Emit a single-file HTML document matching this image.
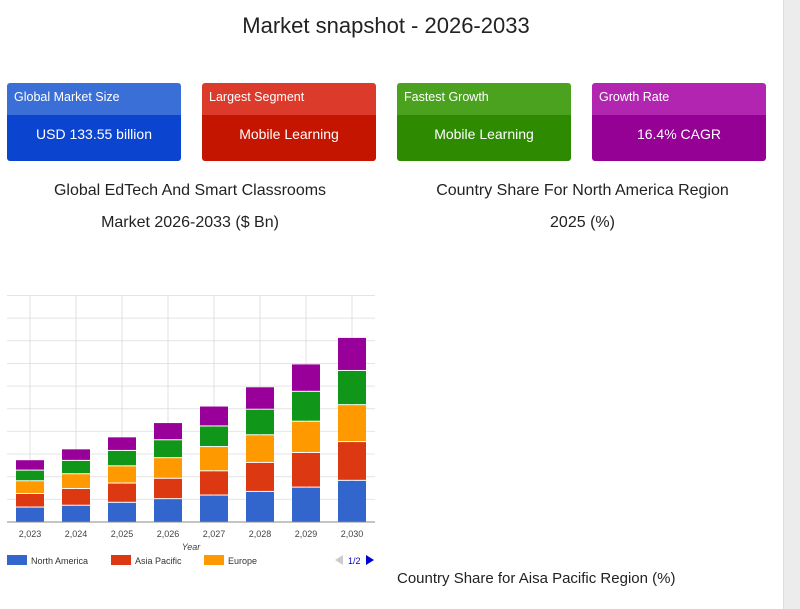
<!DOCTYPE html>
<html><head><meta charset="utf-8"><style>
*{box-sizing:border-box;margin:0;padding:0}
body{width:800px;height:609px;background:#fff;font-family:"Liberation Sans",sans-serif;position:relative;overflow:hidden;color:#222}
.strip{position:absolute;left:783px;top:0;width:17px;height:609px;background:#ececec;border-left:1px solid #ddd}
h1{position:absolute;left:0;width:772px;top:13px;text-align:center;font-size:22px;font-weight:normal;color:#222}
.card{position:absolute;top:83px;width:174px;height:78px;border-radius:3px;overflow:hidden;color:#fff}
.card .h{height:32px;font-size:12.5px;padding:7px 7px}
.card .v{height:46px;font-size:14px;text-align:center;line-height:38px}
.t{position:absolute;font-size:16px;text-align:center;line-height:32px;color:#222}
</style></head><body>
<div class="strip"></div>
<h1>Market snapshot - 2026-2033</h1>
<div class="card" style="left:7px"><div class="h" style="background:#3a6fd8">Global Market Size</div><div class="v" style="background:#0a44cf">USD 133.55 billion</div></div>
<div class="card" style="left:202px"><div class="h" style="background:#dc3b2c">Largest Segment</div><div class="v" style="background:#c31500">Mobile Learning</div></div>
<div class="card" style="left:397px"><div class="h" style="background:#4aa21e">Fastest Growth</div><div class="v" style="background:#2e8a00">Mobile Learning</div></div>
<div class="card" style="left:592px"><div class="h" style="background:#b125b1">Growth Rate</div><div class="v" style="background:#950095">16.4% CAGR</div></div>
<div class="t" style="left:0;width:380px;top:175px">Global EdTech And Smart Classrooms<br>Market 2026-2033 ($ Bn)</div>
<div class="t" style="left:390px;width:385px;top:175px">Country Share For North America Region<br>2025 (%)</div>
<div class="t" style="left:397px;width:335px;top:563px;font-size:15px;text-align:left">Country Share for Aisa Pacific Region (%)</div>
<svg id="chart" style="position:absolute;left:0;top:285px" width="390" height="300"></svg>
<script>
const years=["2,023","2,024","2,025","2,026","2,027","2,028","2,029","2,030"];
const northAmerica=[6.6,7.4,8.7,10.3,11.9,13.5,15.4,18.4];
const asiaPacific=[6.0,7.4,8.5,9.0,10.7,12.8,15.3,17.1];
const europe=[5.6,6.5,7.6,9.1,10.7,12.2,13.8,16.3];
const seriesGreen=[4.7,5.9,6.8,7.9,9.1,11.3,13.2,15.1];
const seriesPurple=[4.6,5.1,6.0,7.6,8.8,9.9,12.1,14.6];
const series=[northAmerica,asiaPacific,europe,seriesGreen,seriesPurple];
const names=["north-america","asia-pacific","europe","series-green","series-purple"];
const colors=["#3366cc","#dc3912","#ff9900","#109618","#990099"];
const NS="http://www.w3.org/2000/svg";
const svg=document.getElementById('chart');
const x0=7,x1=375,yTop=10.5,yBase=237,maxV=100,step=46;
const y=v=>yBase-(v/maxV)*(yBase-yTop);
const xc=i=>30+i*step;
function mk(t,a){const e=document.createElementNS(NS,t);for(const k in a)e.setAttribute(k,a[k]);svg.appendChild(e);return e;}
for(let g=0;g<=10;g++){const l=mk('line',{x1:x0,x2:x1,y1:y(g*10),y2:y(g*10),stroke:'#e4e4e4'});

}
years.forEach((yr,i)=>{const l=mk('line',{x1:xc(i),x2:xc(i),y1:yTop,y2:yBase,stroke:'#e0e0e0'});

});
years.forEach((yr,i)=>{let acc=0;series.forEach((s,k)=>{const v=s[i];
const r=mk('rect',{x:xc(i)-14,width:28,y:y(acc+v)+0.5,height:Math.max(0,y(acc)-y(acc+v)-1),fill:colors[k]});


acc+=v;});
const t=mk('text',{x:xc(i),y:yBase+15,'text-anchor':'middle','font-size':9,fill:'#444'});t.textContent=yr;

});
const ax=mk('line',{x1:x0,x2:x1,y1:yBase,y2:yBase,stroke:'#888'});


const xt=mk('text',{x:191,y:yBase+28,'text-anchor':'middle','font-size':9,'font-style':'italic',fill:'#444'});xt.textContent='Year';


const leg=[["North America",7],["Asia Pacific",111],["Europe",204]];
leg.forEach((L,k)=>{const r=mk('rect',{x:L[1],y:270,width:20,height:10,fill:colors[k]});


const t=mk('text',{x:L[1]+24,y:279,'font-size':9,fill:'#333'});t.textContent=L[0];

});
const pl=mk('polygon',{points:'335,275 343,270 343,280',fill:'#ccc'});


const pt=mk('text',{x:348,y:279,'font-size':9,fill:'#0000cc'});pt.textContent='1/2';


const pn=mk('polygon',{points:'366,270 374,275 366,280',fill:'#0000cc'});


</script>
</body></html>
